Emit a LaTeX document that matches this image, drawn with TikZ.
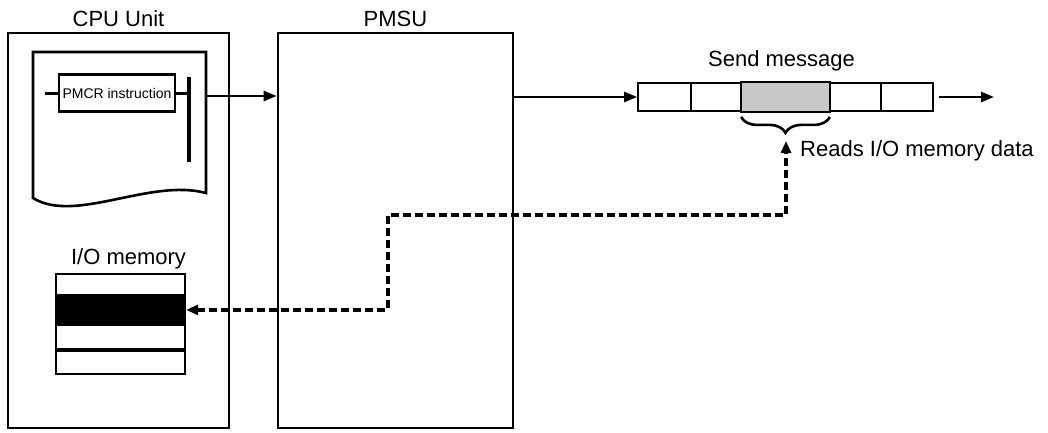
\documentclass[tikz,border=0pt]{standalone}
\usepackage{fontspec}
\setmainfont{Liberation Sans}
\usepackage{tikz}
\usetikzlibrary{positioning, arrows.meta, calc, decorations.pathreplacing}
\definecolor{cellgray}{HTML}{C8C8C8}

\tikzset{
  unitbox/.style={draw, line width=2.6pt, inner sep=0pt, minimum height=395pt},
  caption/.style={inner sep=0pt, font=\fontsize{22}{26}\selectfont},
  memrow/.style={draw, line width=2.4pt, inner sep=0pt, minimum width=129pt},
  cell/.style={draw, line width=1.8pt, inner sep=0pt, minimum height=28pt},
  flow/.style={line width=2.6pt, -{Triangle[length=13pt, width=10pt]}},
  readline/.style={line width=3.2pt, dash pattern=on 8pt off 4pt,
    {Triangle[length=12pt, width=10pt]}-{Triangle[length=12pt, width=10pt]}}
}

\begin{document}
\begin{tikzpicture}[x=1pt, y=-1pt]
  \useasboundingbox (0,0) rectangle (1048,432);

  % units
  \node[unitbox, minimum width=221pt] (cpu) at (118.5,230.5) {};
  \node[unitbox, minimum width=235pt] (pmsu) at (395.5,230.5) {};
  \node[caption, above=5pt of cpu] {CPU Unit};
  \node[caption, above=5pt of pmsu] {PMSU};

  % ladder program sheet
  \draw[line width=2.6pt] (33,198) -- (33,52) -- (206,52) -- (206,193)
    .. controls (150,178) and (75,224) .. cycle;
  \node[draw, line width=2.4pt, inner sep=0pt, minimum width=116pt, minimum height=37pt,
        font=\fontsize{14}{16}\selectfont] (pmcr) at (117,93) {PMCR instruction};
  \coordinate (rung) at (45,93);
  \coordinate (bartop) at (189,77);
  \coordinate (barbot) at (189,162);
  \draw[line width=3pt] (rung) -- (pmcr.west);
  \draw[line width=3pt] (pmcr.east) -- (pmcr.east -| bartop);
  \draw[line width=3.4pt] (bartop) -- (barbot);
  \coordinate (sheetout) at (206,96);
  \draw[flow] (sheetout) -- (sheetout -| pmsu.west);

  % I/O memory
  \node[memrow, minimum height=21pt] (mem1) at (120.5,284.5) {};
  \node[memrow, minimum height=25pt, fill=black, below=0pt of mem1] (mem2) {};
  \node[memrow, minimum height=24pt, below=0pt of mem2] (mem3) {};
  \node[memrow, minimum height=23pt, below=0pt of mem3] (mem4) {};
  \node[caption, above left=4pt and 0pt of mem1.north east] {I/O memory};

  % send message
  \foreach \n/\xa/\xb in {1/638/691, 2/691/742, 3/742/829, 4/829/881, 5/881/933}
    \node[cell, minimum width={(\xb-\xa)*1pt}] (cell\n) at ({(\xa+\xb)/2},97) {};
  \fill[cellgray] ([shift={(1pt,-1pt)}]cell3.south west) rectangle ([shift={(-1pt,1pt)}]cell3.north east);
  \draw[line width=1.8pt] (cell3.south west) rectangle (cell3.north east);
  \node[caption, anchor=base] at ($(cell3.north)+(-4,-16)$) {Send message};
  \draw[flow] (pmsu.east |- cell1.west) -- (cell1.west);
  \coordinate (msgout) at (994,97);
  \draw[flow] ([xshift=5pt]cell5.east) -- (msgout);

  \draw[line width=2.6pt, decorate, decoration={brace, amplitude=16pt}]
    ($(cell3.south east)+(0,5)$) -- ($(cell3.south west)+(0,5)$);
  \coordinate (bracetip) at (786,141);
  \coordinate (jog) at (388,215);
  \draw[readline] (mem2.east) -| (jog) -| (bracetip);
  \node[caption, anchor=base west] at (800,156) {Reads I/O memory data};
\end{tikzpicture}
\end{document}
